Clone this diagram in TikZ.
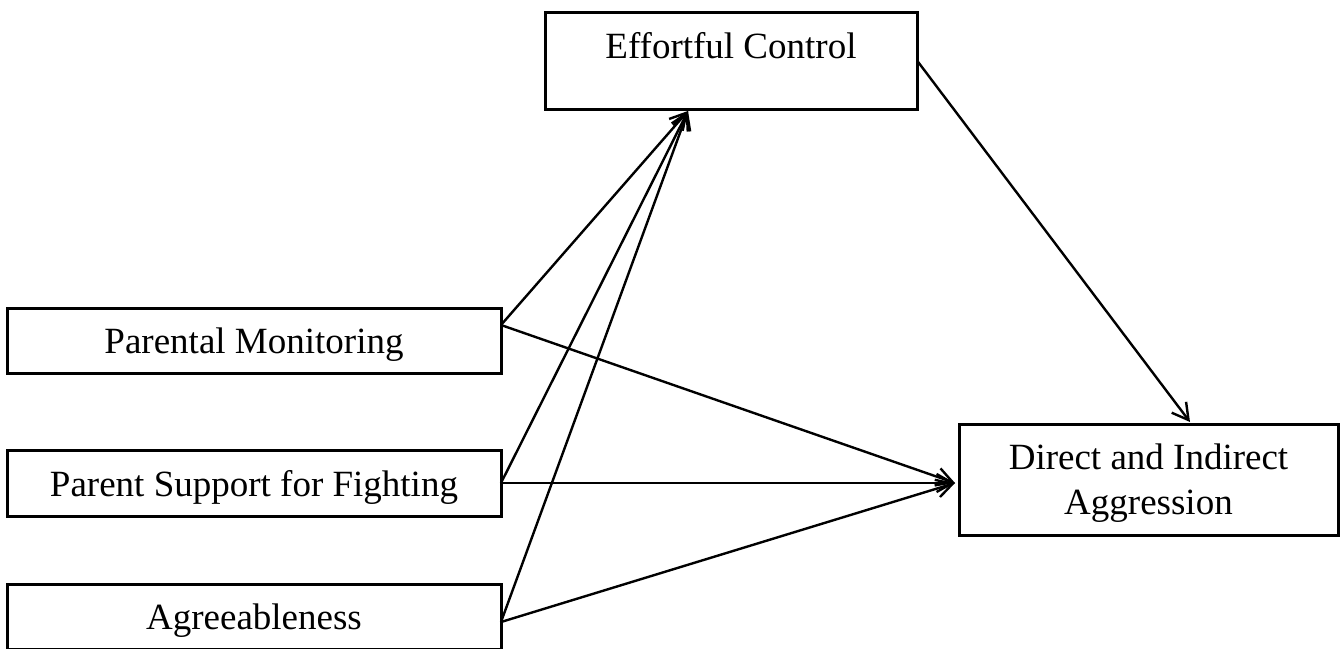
\documentclass[tikz,border=0pt]{standalone}
\usepackage{fontspec}
\setmainfont{Liberation Serif}
\usetikzlibrary{arrows.meta}
\begin{document}
\begin{tikzpicture}[x=1pt,y=-1pt,
  box/.style={draw=black, line width=3pt, inner sep=0pt, outer sep=0pt,
    font=\fontsize{37}{45}\selectfont, align=center, text depth=0pt},
  conn/.style={line width=2.4pt, -{Straight Barb[length=16pt,width=18pt,line width=2.4pt]}}]
\useasboundingbox (0,0) rectangle (1343,648);
\node[box, minimum width=372pt, minimum height=97pt] (ec) at (731,60.5) {};
\node[font=\fontsize{37}{45}\selectfont, inner sep=0pt, anchor=base] (ectext) at (731,58) {Effortful Control};
\node[box, minimum width=494pt, minimum height=65pt] (pm) at (254,340.5) {Parental Monitoring};
\node[box, minimum width=494pt, minimum height=66pt] (ps) at (254,483) {Parent Support for Fighting};
\node[box, minimum width=494pt, minimum height=65pt] (ag) at (254,616.5) {Agreeableness};
\node[box, minimum width=379pt, minimum height=111pt] (dia) at (1148.5,479.5) {Direct and Indirect\\Aggression};
\coordinate (pmout) at ([yshift=15.5pt]pm.east);
\coordinate (agout) at ([yshift=-5.5pt]ag.east);
\coordinate (ecin) at ([xshift=-43pt,yshift=-2pt]ec.south);
\coordinate (diain) at ([xshift=-4pt,yshift=-3.5pt]dia.west);
\coordinate (diatop) at ([xshift=41.5pt,yshift=2pt]dia.north);
\draw[conn] (pmout) -- (ecin);
\draw[conn] (ps.east) -- (ecin);
\draw[conn] (agout) -- (ecin);
\draw[conn] (pmout) -- (diain);
\draw[conn] (ps.east) -- (diain);
\draw[conn] (agout) -- (diain);
\draw[conn] (ec.east) -- (diatop);
\end{tikzpicture}
\end{document}
